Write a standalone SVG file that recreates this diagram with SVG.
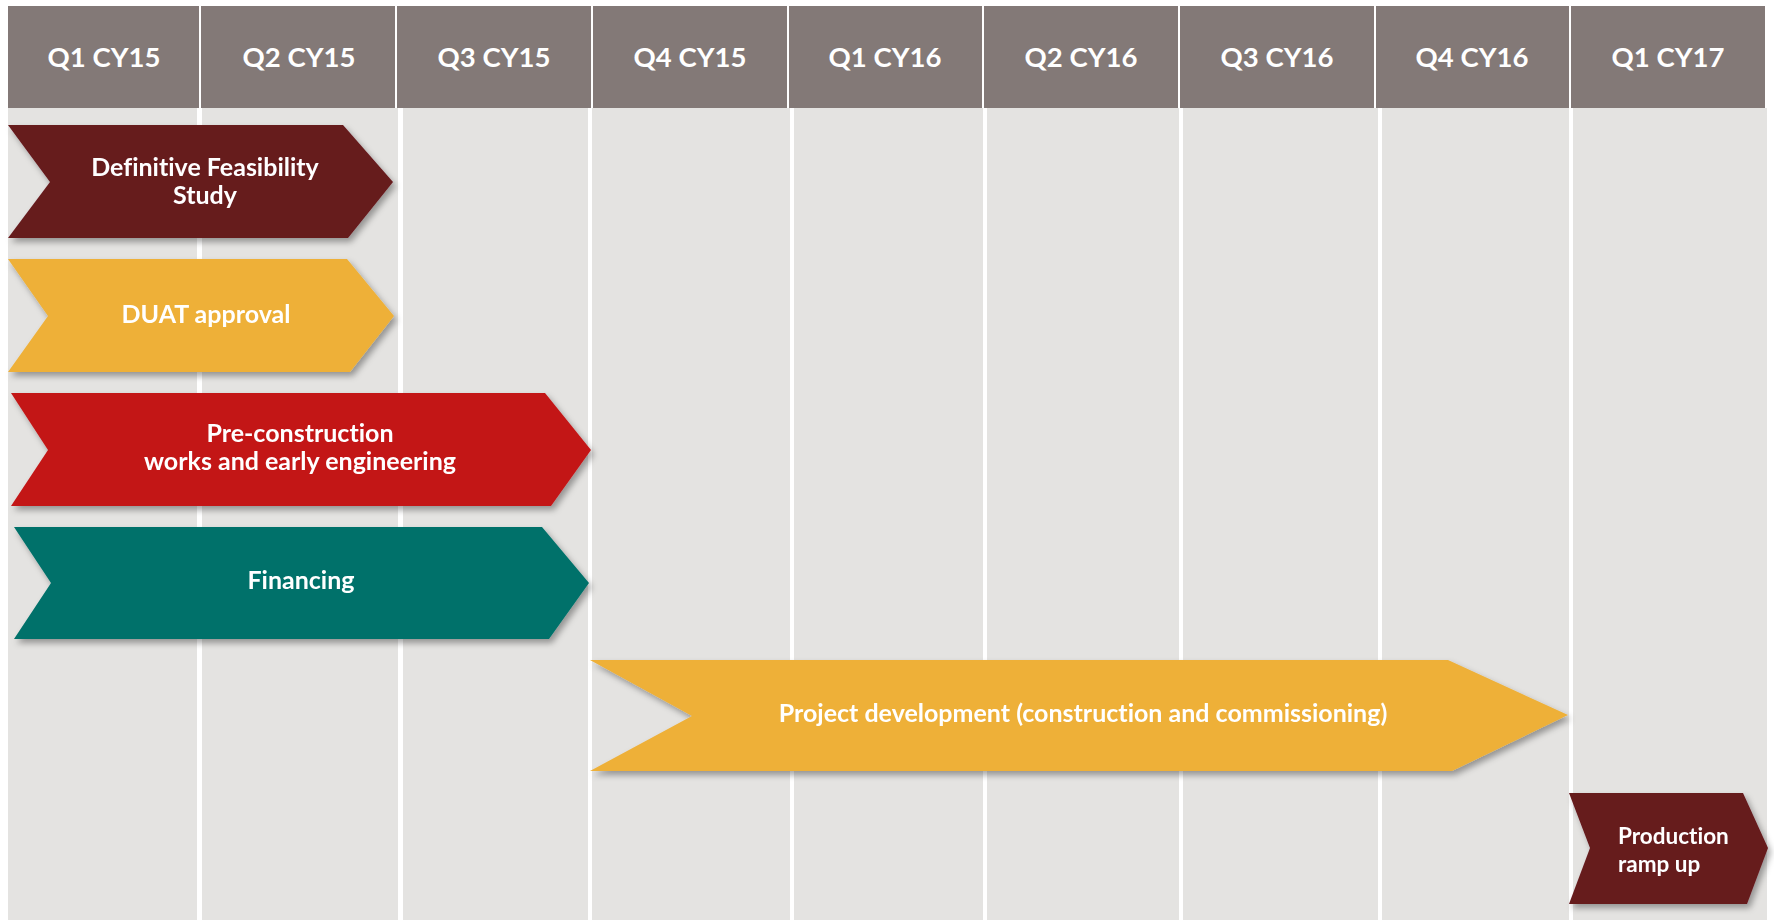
<svg xmlns="http://www.w3.org/2000/svg" width="1774" height="920" viewBox="0 0 1774 920">
  <style>
    .hdr { fill: #837977; }
    .col { fill: #E4E3E1; }
    text { font-family: Lato, "Liberation Sans", sans-serif; font-weight: 700; fill: #FFFFFF; font-variant-ligatures: none; }
    .hdr-txt { font-size: 27.5px; text-anchor: middle; }
    .lbl { font-size: 25px; text-anchor: middle; }
    .lbl-left { font-size: 22.5px; text-anchor: start; }
    .maroon { fill: #661A1F; }
    .amber { fill: #EEB038; }
    .red { fill: #C31518; }
    .teal { fill: #00716A; }
  </style>
  <defs>
    <filter id="shadow" x="-5%" y="-10%" width="115%" height="130%">
      <feDropShadow dx="3" dy="4" stdDeviation="3" flood-color="#000000" flood-opacity="0.35"/>
    </filter>
  </defs>

  <rect x="0" y="0" width="1774" height="920" fill="#FFFFFF"/>

  <!-- quarter columns (body) -->
  <g id="columns">
    <rect class="col" x="8" y="108" width="189" height="812"/>
    <rect class="col" x="202" y="108" width="196" height="812"/>
    <rect class="col" x="403" y="108" width="185" height="812"/>
    <rect class="col" x="592" y="108" width="198" height="812"/>
    <rect class="col" x="794" y="108" width="189" height="812"/>
    <rect class="col" x="987" y="108" width="192" height="812"/>
    <rect class="col" x="1183" y="108" width="195" height="812"/>
    <rect class="col" x="1382" y="108" width="187" height="812"/>
    <rect class="col" x="1573" y="108" width="194" height="812"/>
  </g>

  <!-- quarter headers -->
  <g id="header">
    <rect class="hdr" x="8" y="6" width="191" height="102"/>
    <rect class="hdr" x="201" y="6" width="194" height="102"/>
    <rect class="hdr" x="397" y="6" width="194" height="102"/>
    <rect class="hdr" x="593" y="6" width="194" height="102"/>
    <rect class="hdr" x="789" y="6" width="193" height="102"/>
    <rect class="hdr" x="984" y="6" width="194" height="102"/>
    <rect class="hdr" x="1180" y="6" width="194" height="102"/>
    <rect class="hdr" x="1376" y="6" width="193" height="102"/>
    <rect class="hdr" x="1571" y="6" width="194" height="102"/>
    <text class="hdr-txt" x="104" y="67">Q1 CY15</text>
    <text class="hdr-txt" x="299" y="67">Q2 CY15</text>
    <text class="hdr-txt" x="494" y="67">Q3 CY15</text>
    <text class="hdr-txt" x="690" y="67">Q4 CY15</text>
    <text class="hdr-txt" x="885" y="67">Q1 CY16</text>
    <text class="hdr-txt" x="1081" y="67">Q2 CY16</text>
    <text class="hdr-txt" x="1277" y="67">Q3 CY16</text>
    <text class="hdr-txt" x="1472" y="67">Q4 CY16</text>
    <text class="hdr-txt" x="1668" y="67">Q1 CY17</text>
  </g>

  <g id="dfs" filter="url(#shadow)">
    <polygon class="maroon" points="8,125 343,125 393,182 348,238 8,238 50,182"/>
    <text class="lbl" x="205" y="176">Definitive Feasibility</text>
    <text class="lbl" x="205" y="204">Study</text>
  </g>

  <g id="duat" filter="url(#shadow)">
    <polygon class="amber" points="8,259 347,259 394,316 350,372 8,372 48,316"/>
    <text class="lbl" x="206" y="323">DUAT approval</text>
  </g>

  <g id="preconstruction" filter="url(#shadow)">
    <polygon class="red" points="11,393 545,393 591,450 551,506 11,506 48,450"/>
    <text class="lbl" x="300" y="442">Pre-construction</text>
    <text class="lbl" x="300" y="470">works and early engineering</text>
  </g>

  <g id="financing" filter="url(#shadow)">
    <polygon class="teal" points="14,527 542,527 589,583 549,639 14,639 51,583"/>
    <text class="lbl" x="301" y="589">Financing</text>
  </g>

  <g id="project" filter="url(#shadow)">
    <polygon class="amber" points="590,660 1448,660 1568,715 1452,771 590,771 692,716"/>
    <text class="lbl" x="1083" y="722">Project development (construction and commissioning)</text>
  </g>

  <g id="rampup" filter="url(#shadow)">
    <polygon class="maroon" points="1569,793 1743,793 1768,848 1747,904 1569,904 1590,848"/>
    <text class="lbl-left" x="1618" y="844">Production</text>
    <text class="lbl-left" x="1618" y="872">ramp up</text>
  </g>
</svg>
